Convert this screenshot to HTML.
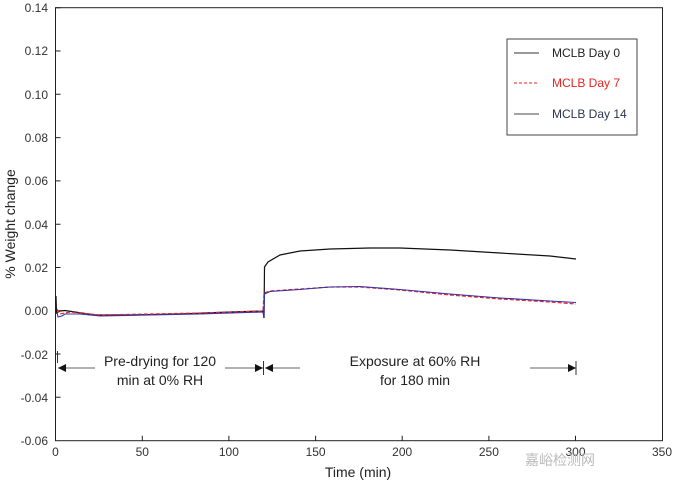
<!DOCTYPE html>
<html><head><style>body{margin:0;background:#fff}svg{font-family:"Liberation Sans",Arial,sans-serif}</style></head><body>
<svg width="680" height="487" viewBox="0 0 680 487" xmlns="http://www.w3.org/2000/svg">
<rect width="680" height="487" fill="#fff"/>
<rect x="55.5" y="7.7" width="607" height="433" fill="none" stroke="#222" stroke-width="1"/>
<g font-size="12" fill="#333" text-anchor="end">
<text x="48" y="12">0.14</text><text x="48" y="55">0.12</text><text x="48" y="99">0.10</text><text x="48" y="142">0.08</text><text x="48" y="185">0.06</text><text x="48" y="229">0.04</text><text x="48" y="272">0.02</text><text x="48" y="315">0.00</text><text x="48" y="359">-0.02</text><text x="48" y="402">-0.04</text><text x="48" y="445">-0.06</text>
</g>
<g stroke="#222"><path d="M55.5 7.7h5M55.5 51h5M55.5 94.3h5M55.5 137.6h5M55.5 180.9h5M55.5 224.2h5M55.5 267.5h5M55.5 310.7h5M55.5 354h5M55.5 397.3h5"/>
<path d="M142.3 440.7v-5M228.9 440.7v-5M315.6 440.7v-5M402.2 440.7v-5M488.9 440.7v-5M575.5 440.7v-5"/></g>
<g font-size="12" fill="#333" text-anchor="middle">
<text x="55.5" y="456">0</text><text x="142.3" y="456">50</text><text x="228.9" y="456">100</text><text x="315.6" y="456">150</text><text x="402.2" y="456">200</text><text x="488.9" y="456">250</text><text x="575.5" y="456">300</text><text x="662" y="456">350</text>
</g>
<text x="358" y="477" font-size="14" text-anchor="middle" fill="#222">Time (min)</text>
<text transform="translate(15 224) rotate(-90)" font-size="14" text-anchor="middle" fill="#222">% Weight change</text>
<path d="M56 296 L56.5 313 L60 311 L65 310.5 L75 312 L95 315 L130 315 L180 314 L230 312 L263 311 L264 318 L264.5 267 L268 262 L280 255 L300 251 L330 249 L370 248 L400 248 L450 250 L500 253 L550 256 L576 259" fill="none" stroke="#111" stroke-width="1.2"/>
<path d="M57 309 L60 314 L70 312 L100 315 L150 314 L200 313 L263 311 L264 293 L270 291 L300 289 L330 287 L360 287 L400 290 L450 295 L500 299 L550 302 L576 304" fill="none" stroke="#e22" stroke-width="1.2" stroke-dasharray="4,2"/>
<path d="M57 312 L58 317 L62 316 L65 314 L80 314 L100 316 L150 315 L200 314 L263 312 L264 317 L264.5 294 L270 291.5 L300 289.5 L330 287 L360 286.5 L400 289.5 L450 294 L500 298 L550 301 L576 302.5" fill="none" stroke="#33a" stroke-width="1.1"/>
<g stroke="#333" fill="#111">
<path d="M57.5 363v-12M263.5 375v-14"/>
<path d="M58 368H95M225 368H263M265 368H300M530 368H576" stroke-width="0.8"/>
<path d="M58 368l8-4v8z M263 368l-8-4v8z M265 368l8-4v8z M576 368l-8-4v8z" stroke="none"/>
<path d="M576 375v-14" />
</g>
<g font-size="14" fill="#222" text-anchor="middle">
<text x="160" y="366">Pre-drying for 120</text><text x="160" y="385">min at 0% RH</text>
<text x="415" y="366">Exposure at 60% RH</text><text x="415" y="385">for 180 min</text>
</g>
<rect x="507" y="39" width="130" height="96" fill="#fff" stroke="#444"/>
<path d="M514 53h25" stroke="#333"/><path d="M514 83h25" stroke="#e22" stroke-dasharray="3,2"/><path d="M514 114h25" stroke="#445"/>
<g font-size="12"><text x="552" y="57" fill="#222">MCLB Day 0</text><text x="552" y="87" fill="#e22">MCLB Day 7</text><text x="552" y="118" fill="#2a3550">MCLB Day 14</text></g>
<text x="560" y="465" font-size="14" fill="#bbb" text-anchor="middle">嘉峪检测网</text>
</svg>
</body></html>
